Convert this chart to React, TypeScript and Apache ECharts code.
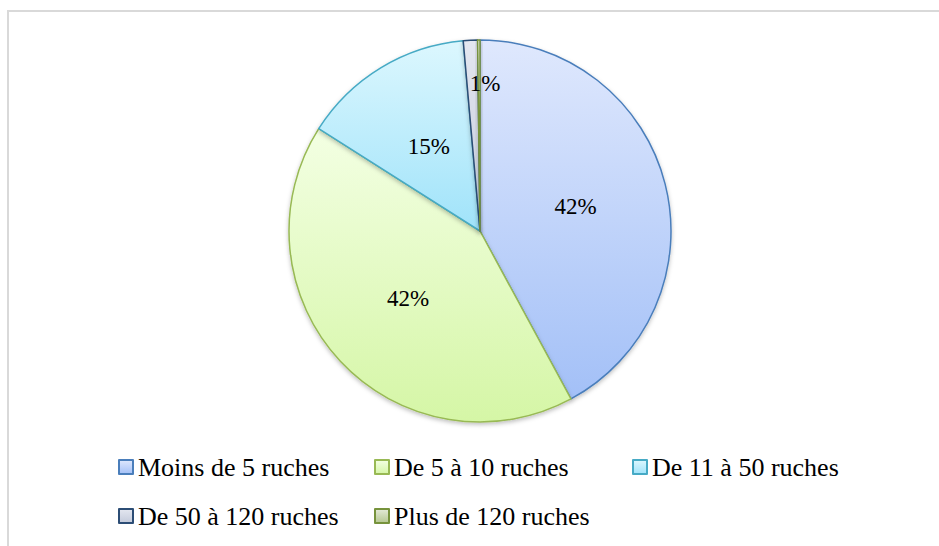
import React, { useEffect, useRef } from "react";
import * as echarts from "echarts";

const categories = [
  "Moins de 5 ruches",
  "De 5 à 10 ruches",
  "De 11 à 50 ruches",
  "De 50 à 120 ruches",
  "Plus de 120 ruches",
];
const values = [42.1, 41.9, 14.6, 1.2, 0.2];
const fillTop = ["#dfe8fd", "#f3ffe3", "#dcf7fe", "#e4e7f0", "#e4ead8"];
const fillBottom = ["#a3c0f7", "#d5f6a6", "#a0e3fa", "#c3cadb", "#b5c790"];
const borders = ["#4a7ebb", "#98b954", "#46aac5", "#2c4d75", "#77933c"];

const FONT = "Liberation Serif, Times New Roman, serif";

export default function App() {
  const ref = useRef<HTMLDivElement>(null);
  useEffect(() => {
    if (!ref.current) return;
    const chart = echarts.init(ref.current, null, { renderer: "svg" });
    const data = categories.map((name, i) => ({
      name,
      value: values[i],
      itemStyle: {
        color: new echarts.graphic.LinearGradient(0, 0, 0, 1, [
          { offset: 0, color: fillTop[i] },
          { offset: 1, color: fillBottom[i] },
        ]),
        borderColor: borders[i],
        borderWidth: 1.5,
      },
    }));
    const legendBase = {
      orient: "vertical" as const,
      icon: "rect",
      itemWidth: 14,
      itemHeight: 14,
      itemGap: 21,
      selectedMode: false,
      textStyle: { fontFamily: FONT, fontSize: 26, color: "#000", lineHeight: 28 },
      top: 448,
    };
    chart.setOption({
      animation: false,
      backgroundColor: "#fff",
      textStyle: { fontFamily: FONT },
      graphic: [
        {
          type: "rect",
          shape: { x: 8, y: 11, width: 960, height: 560 },
          style: { fill: "none", stroke: "#d9d9d9", lineWidth: 2 },
          silent: true,
        },
      ],
      legend: [
        { ...legendBase, left: 113, data: [categories[0], categories[3]] },
        { ...legendBase, left: 369, data: [categories[1], categories[4]] },
        { ...legendBase, left: 627, data: [categories[2]] },
      ],
      series: [
        {
          type: "pie",
          center: [480, 231],
          radius: 191,
          startAngle: 90,
          clockwise: true,
          avoidLabelOverlap: false,
          label: {
            show: true,
            position: "inner",
            fontFamily: FONT,
            fontSize: 23,
            color: "#000",
            formatter: (p: any) => (p.dataIndex === 4 ? "" : Math.round(p.percent) + "%"),
          },
          labelLine: { show: false },
          labelLayout: (p: any) => (p.dataIndex === 3 ? { dx: 10, dy: -49 } : {}),
          itemStyle: {
            shadowBlur: 4,
            shadowOffsetY: 2,
            shadowColor: "rgba(0,0,0,0.25)",
          },
          emphasis: { disabled: true },
          data,
        },
      ],
    });
    return () => chart.dispose();
  }, []);
  return (
    <div
      ref={ref}
      style={{ position: "absolute", left: 0, top: 0, width: 939, height: 546 }}
    />
  );
}
